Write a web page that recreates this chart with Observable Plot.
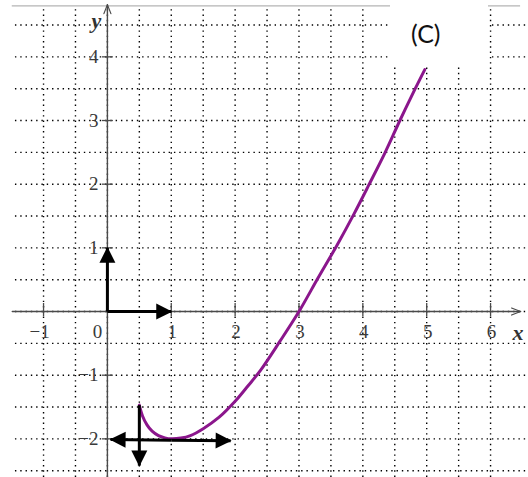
<!DOCTYPE html>
<html><head><meta charset="utf-8">
<script src="https://cdn.jsdelivr.net/npm/d3@7"></script>
<script src="https://cdn.jsdelivr.net/npm/@observablehq/plot@0.6"></script>
<style>
html,body{margin:0;padding:0;background:#fff;}
#wrap{position:relative;width:528px;height:477px;overflow:hidden;}
#tag{position:absolute;left:390px;top:0;width:98px;height:67px;background:#fff;font-family:Lato,"Open Sans",sans-serif;font-size:25px;color:#111;box-sizing:border-box;padding-left:21px;padding-top:18px;line-height:30px;}
</style></head><body>
<div id="wrap"><div id="tag">(C)</div></div>
<script>
// ---- data ----
const curveX = [0.5,0.55,0.62,0.7,0.8,0.9,1.0,1.15,1.3,1.5,1.75,2.0,2.2,2.4,2.7,3.0,3.3,3.6,3.86,4.1,4.35,4.58,4.82,4.97];
const curveY = [-1.47,-1.64,-1.78,-1.88,-1.95,-1.985,-2.0,-1.988,-1.948,-1.84,-1.66,-1.41,-1.17,-0.92,-0.47,0,0.53,1.05,1.53,2.0,2.5,3.0,3.5,3.8];

const xTickValues = [-1,1,2,3,4,5,6];
const xTickLabels = ["−1","1","2","3","4","5","6"];
const originLabel = "0";
const yTickValues = [-2,-1,1,2,3,4];
const yTickLabels = ["−2","−1","1","2","3","4"];
const gridX = [-1,-0.5,0,0.5,1,1.5,2,2.5,3,3.5,4,4.5,5,5.5,6];
const gridY = [-2.5,-2,-1.5,-1,-0.5,0,0.5,1,1.5,2,2.5,3,3.5,4,4.5];

// arrows (vectors) : start and end points
const arrowX1 = [0, 0, 1, 1, 0.5];
const arrowY1 = [0, 0, -2.02, -2.02, -1.47];
const arrowX2 = [0, 1, 0.05, 1.93, 0.5];
const arrowY2 = [1, 0, -2.01, -2.03, -2.42];

// view extents
const xDomain = [-1.674, 6.594];
const yDomain = [-2.607, 4.885];
const xAxisExtent = [-1.49, 6.47];
const yAxisExtent = [-2.607, 4.82];
const frameTopY = 4.80;
const gridXExtent = [-1.44, 6.594];
const gridYExtent = [-2.607, 4.77];

const W = 528, H = 477;
const pxX = (xDomain[1]-xDomain[0])/W;   // data units per pixel
const pxY = (yDomain[1]-yDomain[0])/H;

const curve = curveX.map((x,i)=>({x, y: curveY[i]}));
const arrows = arrowX1.map((x1,i)=>({x1, y1: arrowY1[i], x2: arrowX2[i], y2: arrowY2[i]}));
const xTicks = xTickValues.map((v,i)=>({v, label: xTickLabels[i]}));
const yTicks = yTickValues.map((v,i)=>({v, label: yTickLabels[i]}));

const dotted = {stroke:"#000", strokeWidth:1.4, strokeDasharray:"1.4,3.9"};
const axisColor = "#4a4a4a";
const labelFont = "Liberation Serif, DejaVu Serif, serif";
const tickText = {fontSize:19, fontFamily: labelFont, fill:"#3a3a3a"};

const plot = Plot.plot({
  width: W, height: H,
  margin: 0,
  x: {domain: xDomain, axis: null},
  y: {domain: yDomain, axis: null},
  style: {background: "#fff", overflow: "visible"},
  marks: [
    // dotted grid
    Plot.ruleX(gridX, {x: d=>d, y1: gridYExtent[0], y2: gridYExtent[1], ...dotted}),
    Plot.ruleY(gridY, {y: d=>d, x1: gridXExtent[0], x2: gridXExtent[1], ...dotted}),
    // top frame line
    Plot.ruleY([frameTopY], {x1: xAxisExtent[0], x2: xAxisExtent[1], stroke:"#b4b4b4", strokeWidth:1.3}),
    // axes with arrow heads
    Plot.line([[xAxisExtent[0],0],[xAxisExtent[1],0]], {stroke: axisColor, strokeWidth:1.4, markerEnd:"arrow"}),
    Plot.line([[0,yAxisExtent[0]],[0,yAxisExtent[1]]], {stroke: axisColor, strokeWidth:1.4, markerEnd:"arrow"}),
    // ticks
    Plot.ruleX(xTicks, {x:"v", y1: -5*pxY, y2: 8*pxY, stroke: axisColor, strokeWidth:1.3}),
    Plot.ruleY(yTicks, {y:"v", x1: -5*pxX, x2: 6*pxX, stroke: axisColor, strokeWidth:1.3}),
    // tick labels
    Plot.text(xTicks.filter(d=>d.v<0), {x:"v", y: 0, text:"label", dy: 20, dx: -4, ...tickText}),
    Plot.text(xTicks.filter(d=>d.v>0), {x:"v", y: 0, text:"label", dy: 20, dx: 1, ...tickText}),
    Plot.text([originLabel], {x: 0, y: 0, text: d=>d, dy: 20, dx: -10, ...tickText}),
    Plot.text(yTicks, {x: 0, y:"v", text:"label", dx: -9, textAnchor:"end", ...tickText}),
    // axis names
    Plot.text(["y"], {x: 0, y: yAxisExtent[1], text: d=>d, dx: -11, dy: 16, fontSize: 22, fontStyle:"italic", fontWeight:"bold", fontFamily: labelFont, fill:"#333"}),
    Plot.text(["x"], {x: xAxisExtent[1], y: 0, text: d=>d, dx: -8, dy: 21, textAnchor:"start", fontSize: 22, fontStyle:"italic", fontWeight:"bold", fontFamily: labelFont, fill:"#333"}),
    // curve
    Plot.line(curve, {x:"x", y:"y", curve:"catmull-rom", stroke:"#8b168c", strokeWidth:3}),
    // vectors
    Plot.link(arrows, {x1:"x1", y1:"y1", x2:"x2", y2:"y2", stroke:"#000", strokeWidth:3, markerEnd:"arrow"})
  ]
});

// restyle marker heads: filled triangles on vectors, open chevrons on axes
const svg = d3.select(plot);
svg.selectAll('g[aria-label="link"] marker').each(function(){
  const m = d3.select(this);
  m.attr("viewBox","-16 -9 17 18").attr("markerUnits","userSpaceOnUse")
   .attr("markerWidth",17).attr("markerHeight",18).attr("refX",0).attr("refY",0)
   .attr("fill","#000").attr("stroke","none").attr("orient","auto");
  m.selectAll("*").remove();
  m.append("path").attr("d","M1,0L-15,-8L-15,8Z");
});
svg.selectAll('g[aria-label="line"] marker').each(function(){
  const m = d3.select(this);
  m.attr("viewBox","-12 -6 14 12").attr("markerUnits","userSpaceOnUse")
   .attr("markerWidth",14).attr("markerHeight",12).attr("refX",0).attr("refY",0)
   .attr("fill","none").attr("stroke",axisColor).attr("stroke-width",1.2).attr("orient","auto");
  m.selectAll("*").remove();
  m.append("path").attr("d","M-9,-3.5L0,0L-9,3.5");
});

const wrap = document.getElementById("wrap");
wrap.insertBefore(plot, wrap.firstChild);
plot.style.position = "absolute";
plot.style.left = "0"; plot.style.top = "0";
</script>
</body></html>
